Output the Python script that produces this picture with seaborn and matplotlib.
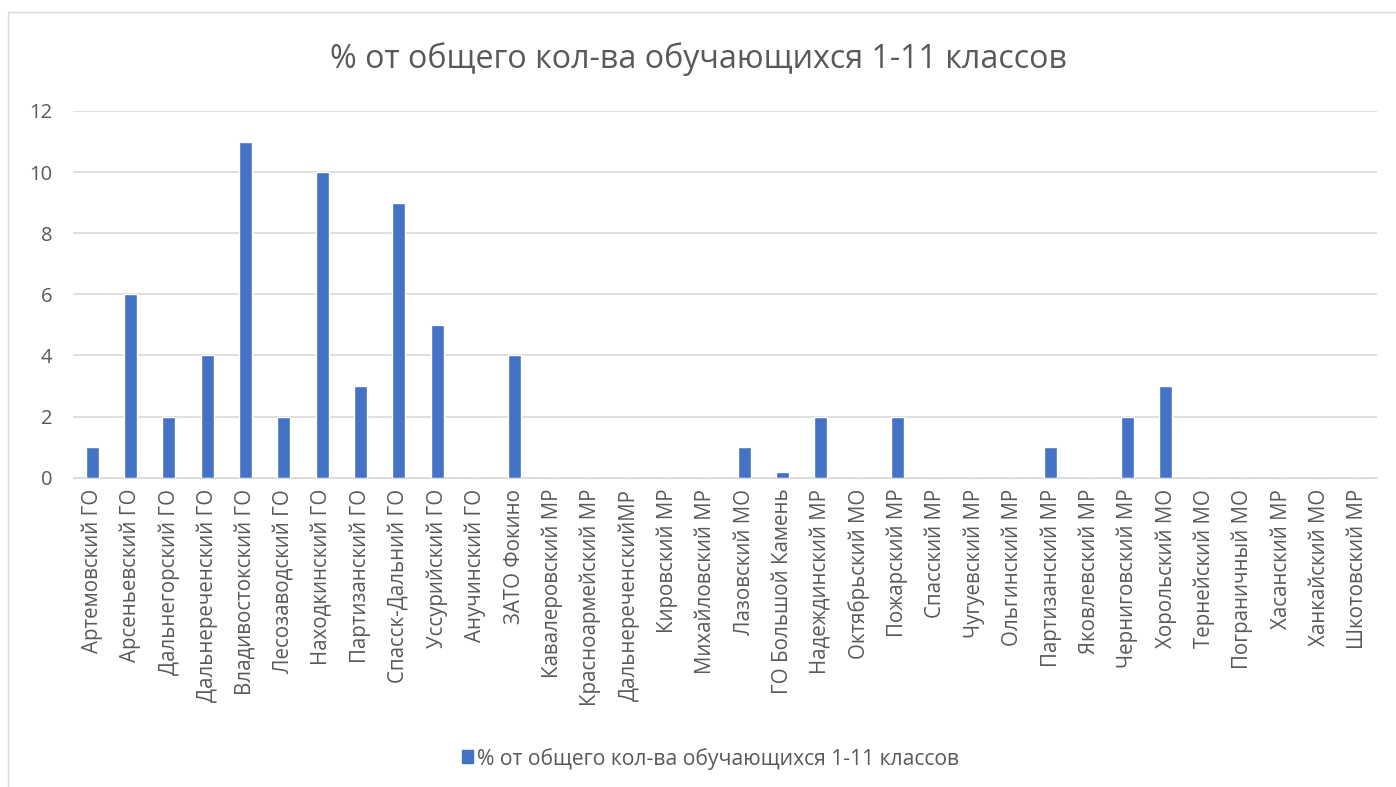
import pandas as pd
import matplotlib.pyplot as plt
import seaborn as sns
from matplotlib.patches import Rectangle

# Data
districts = ['Артемовский ГО', 'Арсеньевский ГО', 'Дальнегорский ГО', 'Дальнереченский ГО',
             'Владивостокский ГО', 'Лесозаводский ГО', 'Находкинский ГО', 'Партизанский ГО',
             'Спасск-Дальний ГО', 'Уссурийский ГО', 'Анучинский ГО', 'ЗАТО Фокино',
             'Кавалеровский МР', 'Красноармейский МР', 'ДальнереченскийМР', 'Кировский МР',
             'Михайловский МР', 'Лазовский МО', 'ГО Большой Камень', 'Надеждинский МР',
             'Октябрьский МО', 'Пожарский МР', 'Спасский МР', 'Чугуевский МР', 'Ольгинский МР',
             'Партизанский МР', 'Яковлевский МР', 'Черниговский МР', 'Хорольский МО',
             'Тернейский МО', 'Пограничный МО', 'Хасанский МР', 'Ханкайский МО', 'Шкотовский МР']
percent = [1, 6, 2, 4, 11, 2, 10, 3, 9, 5, 0, 4, 0, 0, 0, 0, 0, 1, 0.2, 2,
           0, 2, 0, 0, 0, 1, 0, 2, 3, 0, 0, 0, 0, 0]
series_name = '% от общего кол-ва обучающихся 1-11 классов'

df = pd.DataFrame({'district': districts, 'value': percent, 'series': series_name})

sns.set_style('white')
plt.rcParams['font.family'] = ['Open Sans', 'DejaVu Sans']

fig = plt.figure(figsize=(13.96, 7.87), dpi=100)
ax = fig.add_axes([0.0523, 0.393, 0.934, 0.466])

sns.barplot(data=df, x='district', y='value', hue='series', palette=['#4472C4'],
            width=0.34, saturation=1, ax=ax, legend=False)

ax.set_ylim(0, 12)
ax.set_yticks(range(0, 13, 2))
ax.set_xlim(-0.5, len(districts) - 0.5)
ax.yaxis.grid(True, color='#D9D9D9', linewidth=1.2)
ax.set_axisbelow(True)
for s in ['top', 'right', 'left']:
    ax.spines[s].set_visible(False)
ax.spines['bottom'].set_color('#D9D9D9')
ax.set_xlabel('')
ax.set_ylabel('')
ax.tick_params(axis='x', rotation=90, labelsize=14.8, colors='#595959', length=0, pad=8)
ax.tick_params(axis='y', labelsize=14.5, colors='#595959', length=0, pad=15)

fig.text(0.5, 0.925, series_name, ha='center', va='center', fontsize=23.2, color='#595959')

# legend
fig.patches.append(Rectangle((0.331, 0.030), 0.0075, 0.0165, transform=fig.transFigure,
                             color='#4472C4', figure=fig))
fig.text(0.342, 0.036, series_name, ha='left', va='center', fontsize=15.2, color='#595959')

# chart border
fig.patches.append(Rectangle((0.006, -0.01), 1.0, 0.995, transform=fig.transFigure,
                             fill=False, edgecolor='#D9D9D9', linewidth=1, figure=fig))

fig.savefig('out.png', dpi=100)
